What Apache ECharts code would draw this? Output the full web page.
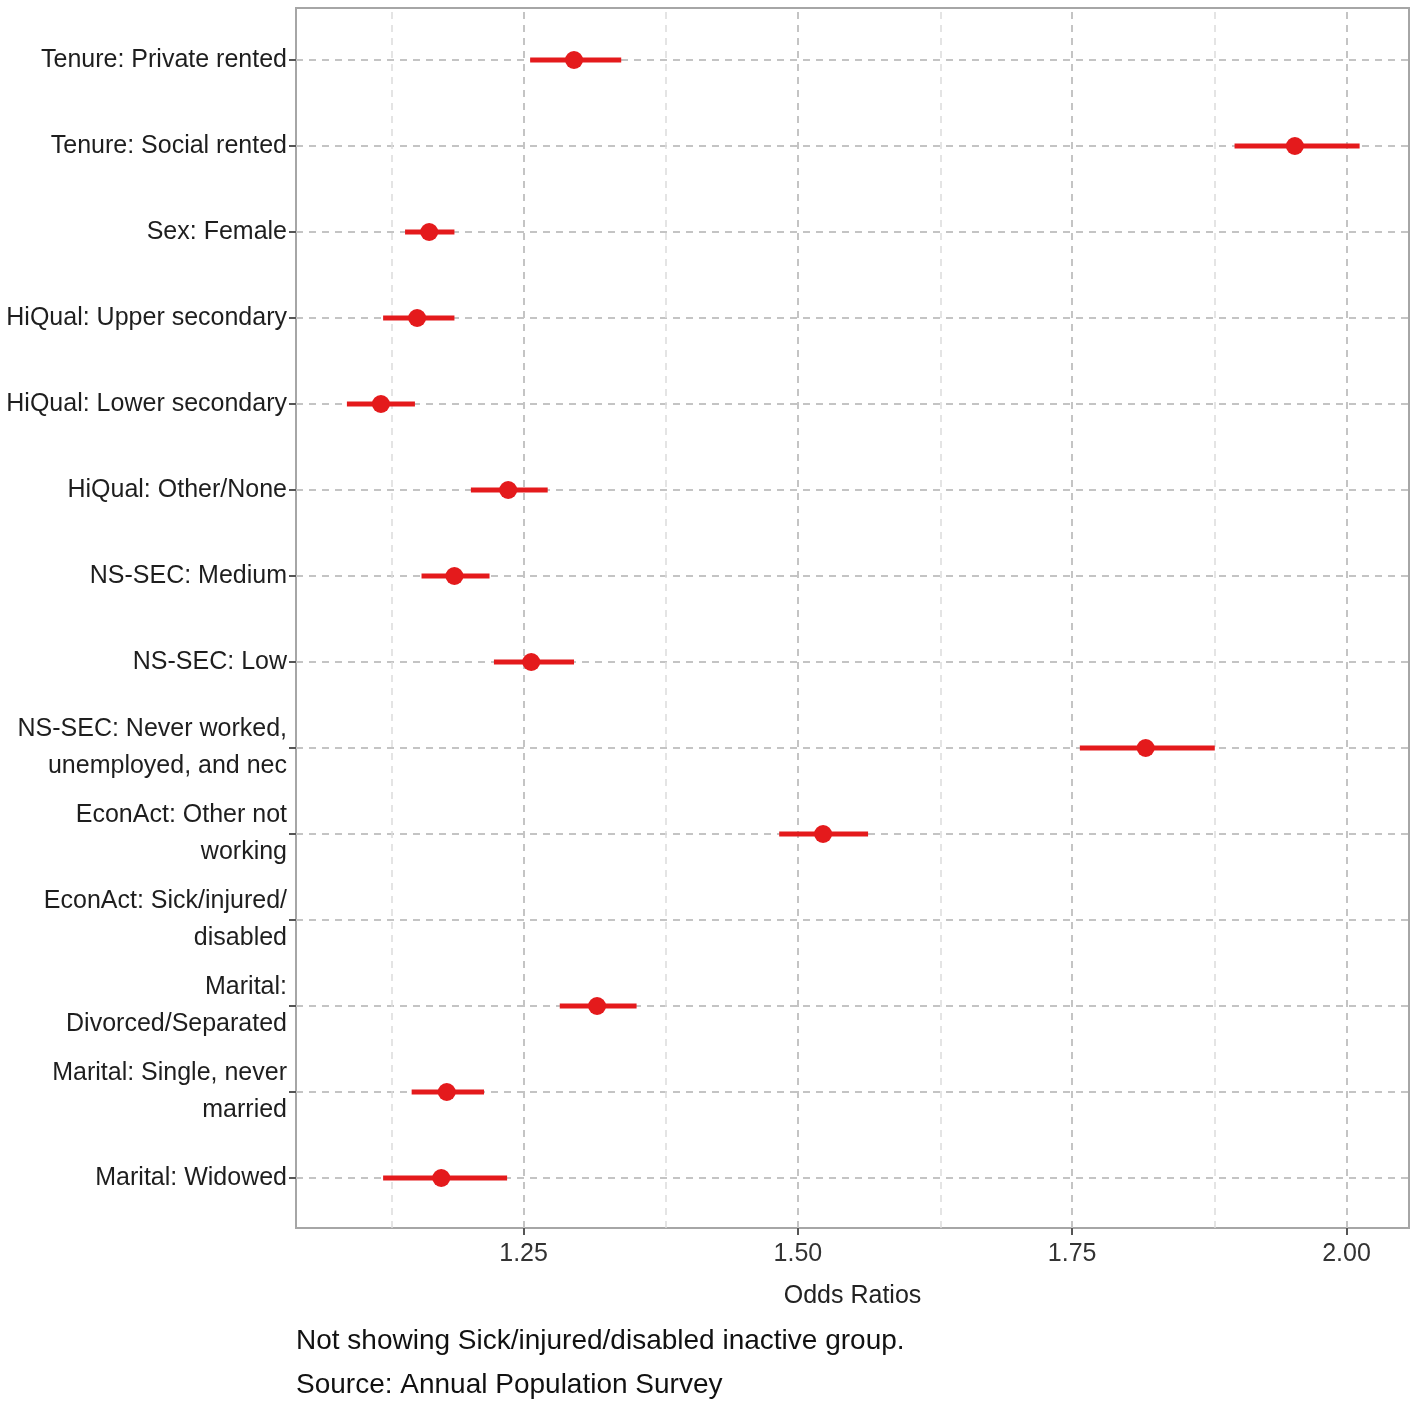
<!DOCTYPE html>
<html>
<head>
<meta charset="utf-8">
<script src="https://cdn.jsdelivr.net/npm/echarts@6/dist/echarts.min.js"></script>
<style>
  html, body { margin: 0; padding: 0; background: #fff; }
  #chart { width: 1417px; height: 1414px; }
</style>
</head>
<body>
<div id="chart"></div>
<script>
// odds ratios with 95% CI, top row first
var labels = [
    'Tenure: Private rented',
    'Tenure: Social rented',
    'Sex: Female',
    'HiQual: Upper secondary',
    'HiQual: Lower secondary',
    'HiQual: Other/None',
    'NS-SEC: Medium',
    'NS-SEC: Low',
    'NS-SEC: Never worked,\nunemployed, and nec',
    'EconAct: Other not\nworking',
    'EconAct: Sick/injured/\ndisabled',
    'Marital:\nDivorced/Separated',
    'Marital: Single, never\nmarried',
    'Marital: Widowed'
];
var oddsRatio = [1.296, 1.953, 1.164, 1.153, 1.120, 1.236, 1.187, 1.257, 1.817, 1.523, null, 1.317, 1.180, 1.175];
var ciLow     = [1.256, 1.898, 1.142, 1.122, 1.089, 1.202, 1.157, 1.223, 1.757, 1.483, null, 1.283, 1.148, 1.122];
var ciHigh    = [1.339, 2.012, 1.187, 1.187, 1.151, 1.272, 1.219, 1.296, 1.880, 1.564, null, 1.353, 1.214, 1.235];

var majorTicks = [1.25, 1.50, 1.75, 2.00];
var minorTicks = [1.125, 1.375, 1.625, 1.875];

var xMin = 1.0426, xMax = 2.057;
var font = '"Liberation Sans", Arial, sans-serif';
var red = '#e41a1c';

var points = [];
oddsRatio.forEach(function (v, i) {
    if (v == null) return;
    points.push([v, i, ciLow[i], ciHigh[i]]);
});

var gridLines = [];
majorTicks.forEach(function (v) {
    gridLines.push({ xAxis: v, lineStyle: { color: '#c4c4c4', width: 2, type: [7, 6] } });
});
minorTicks.forEach(function (v) {
    gridLines.push({ xAxis: v, lineStyle: { color: '#dcdcdc', width: 1.5, type: [7, 6] } });
});

var chart = echarts.init(document.getElementById('chart'));
chart.setOption({
    animation: false,
    backgroundColor: '#fff',
    title: {
        text: 'Not showing Sick/injured/disabled inactive group.\nSource: Annual Population Survey',
        left: 296,
        top: 1319,
        padding: 0,
        textStyle: { fontFamily: font, fontSize: 28, fontWeight: 'normal', color: '#111', lineHeight: 44 }
    },
    grid: [
        { left: 296, right: 8, top: 8, bottom: 186, containLabel: false, outerBoundsMode: 'none',
          show: true, borderColor: '#a6a6a6', borderWidth: 2, backgroundColor: '#fff' },
        { left: 296, right: 8, top: 60, bottom: 236, containLabel: false, outerBoundsMode: 'none' }
    ],
    xAxis: [{
        gridIndex: 0,
        type: 'value',
        min: xMin,
        max: xMax,
        name: 'Odds Ratios',
        nameLocation: 'middle',
        nameGap: 56,
        nameTextStyle: { fontFamily: font, fontSize: 25, color: '#222' },
        axisLine: { show: false },
        axisTick: { show: true, customValues: majorTicks, length: 7, lineStyle: { color: '#555', width: 2 } },
        axisLabel: {
            customValues: majorTicks,
            margin: 14,
            fontFamily: font, fontSize: 25, color: '#333',
            formatter: function (v) { return v.toFixed(2); }
        },
        splitLine: { show: false }
    }, {
        gridIndex: 1,
        type: 'value',
        min: xMin,
        max: xMax,
        show: false
    }],
    yAxis: [{
        gridIndex: 0,
        type: 'value',
        min: 0,
        max: 1,
        show: false
    }, {
        gridIndex: 1,
        type: 'category',
        data: labels,
        inverse: true,
        boundaryGap: false,
        axisLine: { show: false },
        axisTick: { show: true, length: 7, lineStyle: { color: '#555', width: 2 } },
        axisLabel: {
            margin: 9,
            fontFamily: font, fontSize: 25, color: '#1e1e1e',
            lineHeight: 37, align: 'right', padding: [4, 0, 0, 0]
        },
        splitLine: { show: true, lineStyle: { color: '#c4c4c4', width: 2, type: [7, 6] } }
    }],
    series: [{
        type: 'line',
        xAxisIndex: 0,
        yAxisIndex: 0,
        data: [],
        z: 1,
        markLine: { silent: true, symbol: 'none', label: { show: false }, data: gridLines }
    }, {
        type: 'custom',
        xAxisIndex: 1,
        yAxisIndex: 1,
        z: 5,
        data: points,
        encode: { x: [0, 2, 3], y: 1 },
        renderItem: function (params, api) {
            var c = api.coord([api.value(0), api.value(1)]);
            var a = api.coord([api.value(2), api.value(1)]);
            var b = api.coord([api.value(3), api.value(1)]);
            return {
                type: 'group',
                children: [{
                    type: 'line',
                    shape: { x1: a[0], y1: a[1], x2: b[0], y2: b[1] },
                    style: { stroke: red, lineWidth: 5 }
                }, {
                    type: 'circle',
                    shape: { cx: c[0], cy: c[1], r: 9 },
                    style: { fill: red }
                }]
            };
        }
    }]
});
</script>
</body>
</html>
